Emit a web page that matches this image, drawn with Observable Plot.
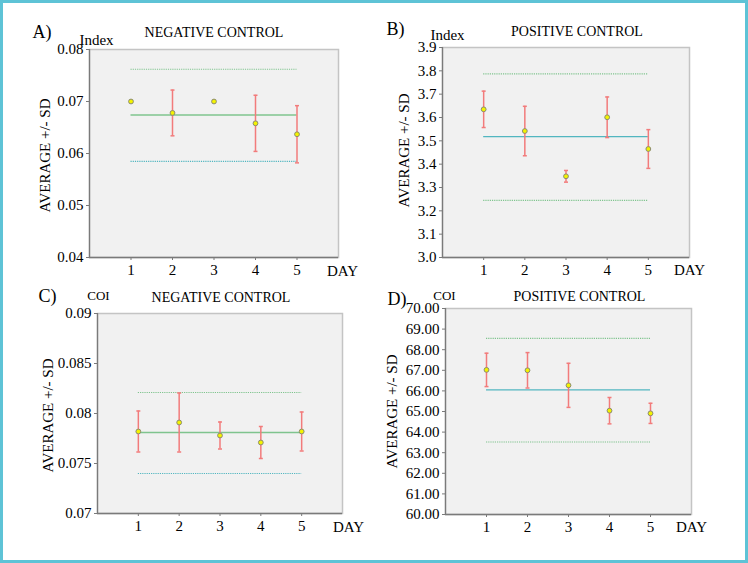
<!DOCTYPE html>
<html>
<head>
<meta charset="utf-8">
<script src="https://cdn.jsdelivr.net/npm/d3@7"></script>
<script src="https://cdn.jsdelivr.net/npm/@observablehq/plot@0.6"></script>
<style>
  html, body { margin: 0; padding: 0; background: #fff; }
  #page { position: relative; width: 748px; height: 563px; overflow: hidden; }
  #border { position: absolute; left: 0; top: 0; width: 748px; height: 563px; box-sizing: border-box; border: 3px solid #5ec3d6; pointer-events: none; }
  .panel { position: absolute; }
  .panel text { font-family: "Liberation Serif", "Times New Roman", serif; }
</style>
</head>
<body>
<div id="page">
  <div id="border"></div>
</div>
<script>
// ---------- data ----------
const days = [1, 2, 3, 4, 5];

// A) Index, negative control
const avgA = [0.0700, 0.0678, 0.0700, 0.0658, 0.0637];
const sdA = [0, 0.0044, 0, 0.0054, 0.0055];
const meanA = 0.0674, upperA = 0.0762, lowerA = 0.0585;
const ticksA = [0.04, 0.05, 0.06, 0.07, 0.08];

// B) Index, positive control
const avgB = [3.635, 3.542, 3.348, 3.601, 3.465];
const sdB = [0.078, 0.106, 0.025, 0.087, 0.083];
const meanB = 3.518, upperB = 3.787, lowerB = 3.245;
const ticksB = [3.0, 3.1, 3.2, 3.3, 3.4, 3.5, 3.6, 3.7, 3.8, 3.9];

// C) COI, negative control
const avgC = [0.0782, 0.0791, 0.0778, 0.0771, 0.0782];
const sdC = [0.00205, 0.00295, 0.00135, 0.0016, 0.00195];
const meanC = 0.0781, upperC = 0.0821, lowerC = 0.0740;
const ticksC = [0.07, 0.075, 0.08, 0.085, 0.09];

// D) COI, positive control
const avgD = [67.02, 67.00, 66.27, 65.04, 64.91];
const sdD = [0.81, 0.86, 1.07, 0.64, 0.49];
const meanD = 66.05, upperD = 68.55, lowerD = 63.52;
const ticksD = [60, 61, 62, 63, 64, 65, 66, 67, 68, 69, 70];

const letters = ["A)", "B)", "C)", "D)"];
const titles = ["NEGATIVE CONTROL", "POSITIVE CONTROL", "NEGATIVE CONTROL", "POSITIVE CONTROL"];
const units = ["Index", "Index", "COI", "COI"];
const yLabel = "AVERAGE +/- SD";
const xLabel = "DAY";

// ---------- styles ----------
const FONT = "'Liberation Serif', 'Times New Roman', serif";
const GREEN = "#7fc48e", TEAL = "#52b6c0", RED = "#f27b7b";
const capSymbol = { draw(ctx, size) { const w = Math.sqrt(size / Math.PI); ctx.moveTo(-w, 0); ctx.lineTo(w, 0); } };

function label(value, anchor, d, size, extra = {}) {
  return Plot.text([value], {
    frameAnchor: anchor, dx: d[0], dy: d[1], textAnchor: "middle", lineAnchor: "middle",
    fontSize: size, fontFamily: FONT, fill: "#000", ...extra
  });
}

function panel(cfg) {
  const rows = days.map((d, i) => ({ day: d, avg: cfg.avg[i], lo: cfg.avg[i] - cfg.sd[i], hi: cfg.avg[i] + cfg.sd[i], sd: cfg.sd[i] }));
  const bars = rows.filter(r => r.sd > 0);
  const y0 = cfg.yTicks[0], y1 = cfg.yTicks[cfg.yTicks.length - 1];
  const first = days[0], last = days[days.length - 1];
  const t = cfg.text;
  const chart = Plot.plot({
    width: 374,
    height: cfg.height,
    marginLeft: cfg.m[0], marginRight: cfg.m[1], marginTop: cfg.m[2], marginBottom: cfg.m[3],
    style: { fontFamily: FONT, background: "transparent", color: "#000", overflow: "visible" },
    x: { domain: [0, 6] },
    y: { domain: [y0, y1] },
    marks: [
      Plot.frame({ fill: "#f1f1f1", stroke: "#c4c4c4", strokeWidth: 1.5 }),
      Plot.ruleX([0], { stroke: "#7a7a7a", strokeWidth: 1.3 }),
      Plot.ruleY([y0], { stroke: "#7a7a7a", strokeWidth: 1.3 }),
      Plot.ruleY([cfg.upper], { x1: first, x2: last, stroke: cfg.upperColor, strokeWidth: 1.2, strokeDasharray: "1.2,1" }),
      Plot.ruleY([cfg.lower], { x1: first, x2: last, stroke: cfg.lowerColor, strokeWidth: 1.2, strokeDasharray: "1.2,1" }),
      Plot.ruleY([cfg.mean], { x1: first, x2: last, stroke: cfg.meanColor, strokeWidth: 1.4 }),
      Plot.ruleX(bars, { x: "day", y1: "lo", y2: "hi", stroke: RED, strokeWidth: 1.5 }),
      Plot.dot(bars, { x: "day", y: "lo", symbol: capSymbol, r: 2, stroke: RED, fill: "none", strokeWidth: 1.5 }),
      Plot.dot(bars, { x: "day", y: "hi", symbol: capSymbol, r: 2, stroke: RED, fill: "none", strokeWidth: 1.5 }),
      Plot.dot(rows, { x: "day", y: "avg", r: 2.4, fill: "#f3f300", stroke: "#8c8c70", strokeWidth: 1 }),
      Plot.axisY({ ticks: cfg.yTicks, tickFormat: cfg.fmt, tickSize: 3, tickPadding: 3, stroke: "#7a7a7a", fontSize: 15, fontFamily: FONT, label: null }),
      Plot.axisX({ ticks: days, tickFormat: d3.format("d"), tickSize: 3, tickPadding: 4, stroke: "#7a7a7a", fontSize: 15, fontFamily: FONT, label: null }),
      label(cfg.letter, "top-left", t.letter, 18, { textAnchor: "start" }),
      label(cfg.title, "top", t.title, 14),
      label(cfg.unit, "top-left", t.unit, cfg.unitSize),
      label(xLabel, "bottom-right", t.day, 15),
      label(yLabel, "left", t.ylab, 15, { rotate: -90 })
    ]
  });
  chart.classList.add("panel");
  chart.style.left = cfg.pos[0] + "px";
  chart.style.top = cfg.pos[1] + "px";
  document.getElementById("page").insertBefore(chart, document.getElementById("border"));
}

panel({
  avg: avgA, sd: sdA, mean: meanA, upper: upperA, lower: lowerA, yTicks: ticksA, fmt: d3.format(".2f"),
  meanColor: GREEN, upperColor: GREEN, lowerColor: TEAL,
  pos: [0, 0], height: 280, m: [89, 36, 49, 23],
  letter: letters[0], title: titles[0], unit: units[0], unitSize: 15,
  text: { letter: [-57, -17], title: [0, -17], unit: [7, -9], day: [4, 14], ylab: [-44, 2] }
});
panel({
  avg: avgB, sd: sdB, mean: meanB, upper: upperB, lower: lowerB, yTicks: ticksB, fmt: d3.format(".1f"),
  meanColor: TEAL, upperColor: GREEN, lowerColor: GREEN,
  pos: [374, 0], height: 280, m: [68, 59, 47, 23],
  letter: letters[1], title: titles[1], unit: units[1], unitSize: 15,
  text: { letter: [-56, -18], title: [11, -16], unit: [5, -12], day: [0, 13], ylab: [-38, -2] }
});
panel({
  avg: avgC, sd: sdC, mean: meanC, upper: upperC, lower: lowerC, yTicks: ticksC, fmt: d => String(+d.toFixed(3)),
  meanColor: GREEN, upperColor: GREEN, lowerColor: TEAL,
  pos: [0, 280], height: 283, m: [97, 32, 33, 50],
  letter: letters[2], title: titles[2], unit: units[2], unitSize: 13,
  text: { letter: [-59, -17], title: [1, -16], unit: [1, -18], day: [6, 14], ylab: [-49, 2] }
});
panel({
  avg: avgD, sd: sdD, mean: meanD, upper: upperD, lower: lowerD, yTicks: ticksD, fmt: d3.format(".2f"),
  meanColor: TEAL, upperColor: GREEN, lowerColor: GREEN,
  pos: [374, 280], height: 283, m: [71, 57, 28, 49],
  letter: letters[3], title: titles[3], unit: units[3], unitSize: 13,
  text: { letter: [-58, -9], title: [11, -12], unit: [-1, -13], day: [0, 13], ylab: [-53, 0] }
});
</script>
</body>
</html>
